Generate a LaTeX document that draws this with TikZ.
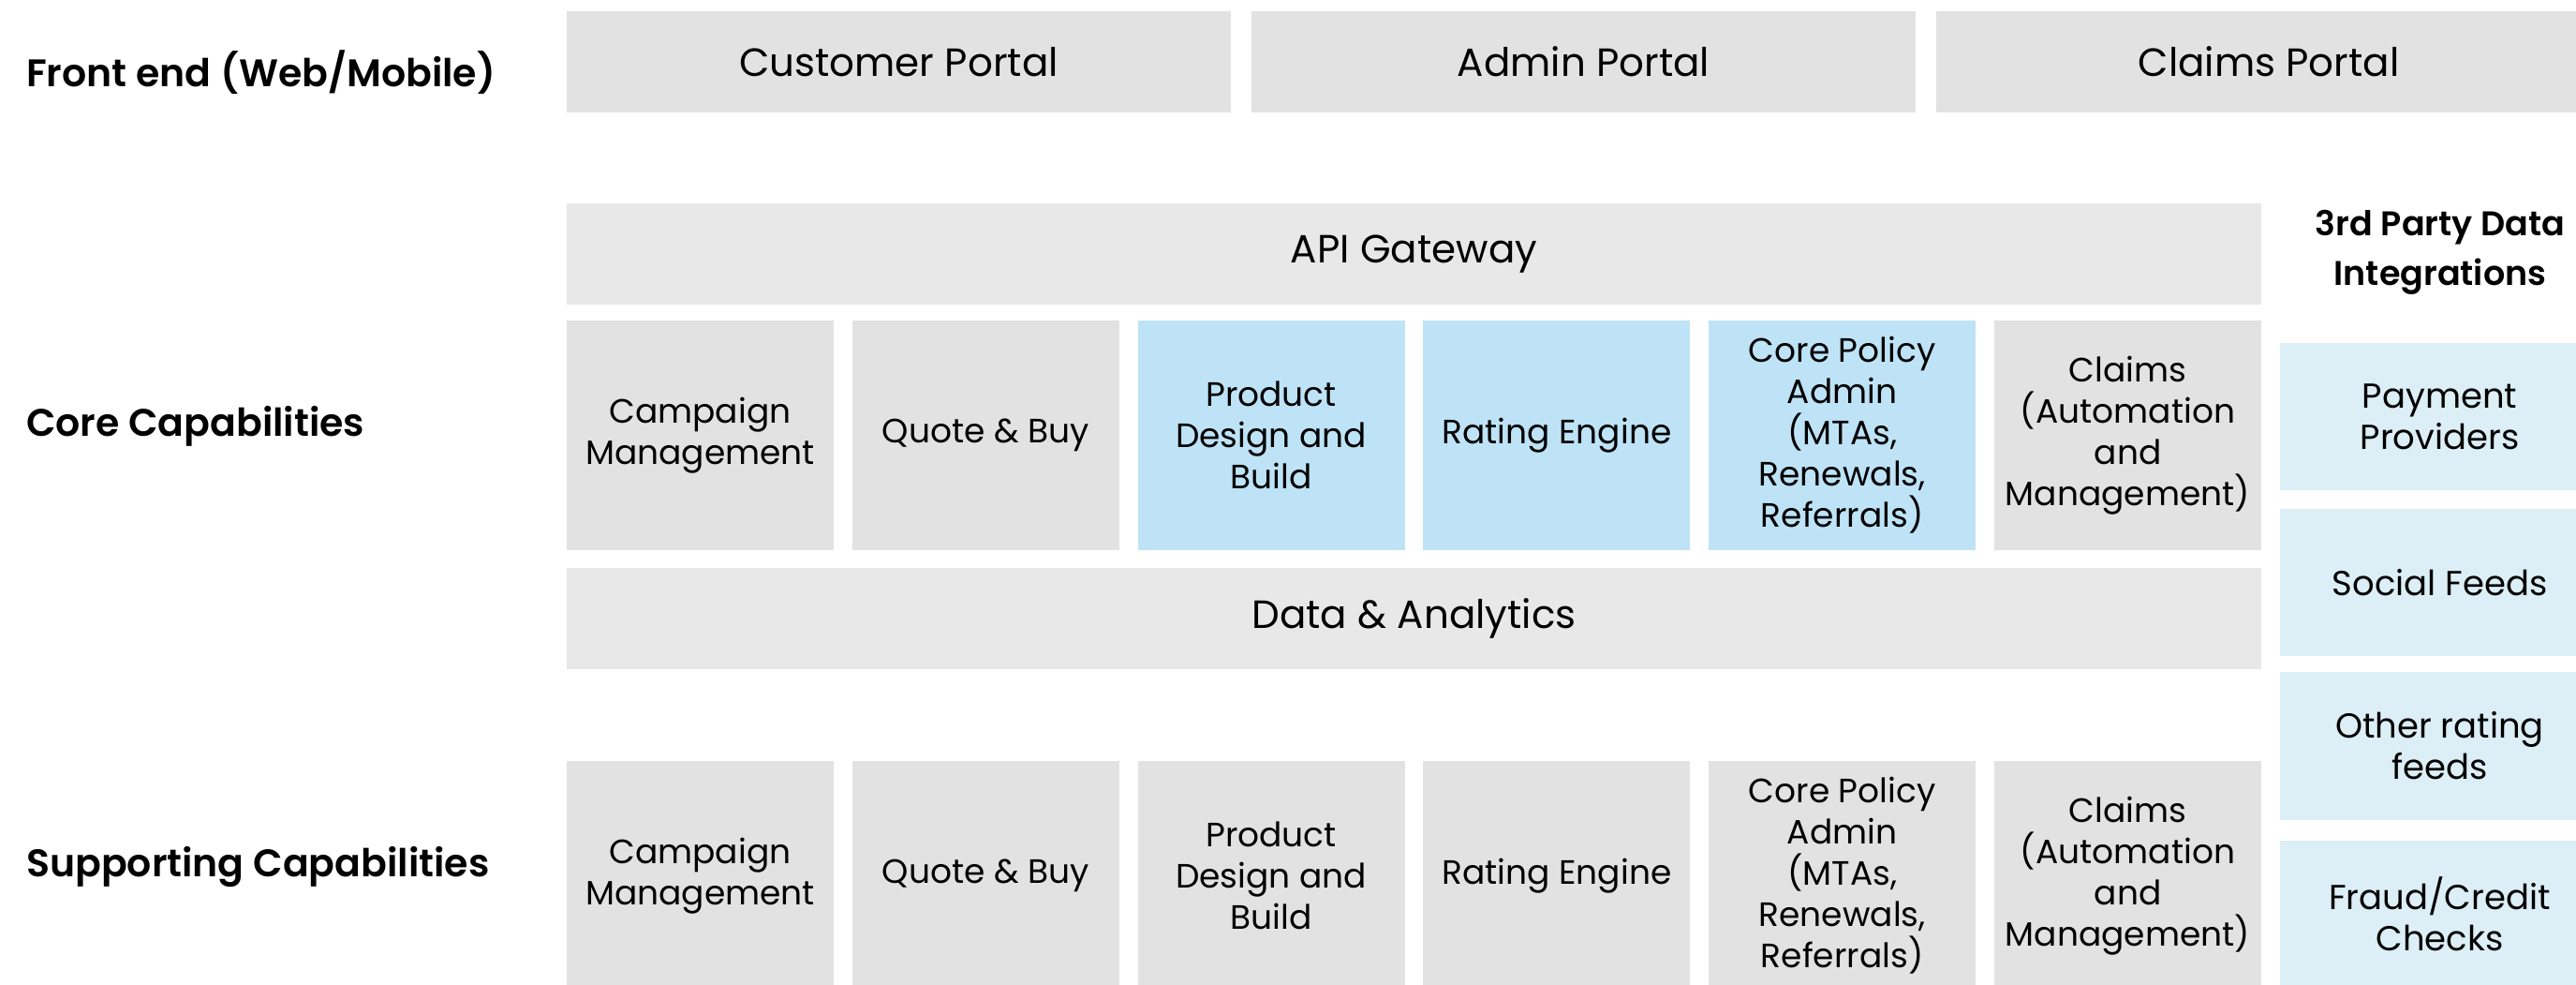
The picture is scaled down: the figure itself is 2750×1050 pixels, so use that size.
\documentclass[tikz,border=0pt]{standalone}
\usepackage{fontspec}
\setmainfont{Poppins}
\newfontfamily\semib{Poppins}[UprightFont=* SemiBold]
\definecolor{boxgrey}{HTML}{E2E2E2}
\definecolor{bargrey}{HTML}{E8E8E8}
\definecolor{coreblue}{HTML}{BEE3F6}
\definecolor{thirdblue}{HTML}{DCEEF6}
\begin{document}
\begin{tikzpicture}[x=1pt,y=-1pt,
  cell/.style={fill=boxgrey, draw=none, inner sep=0pt, outer sep=0pt, align=center,
    anchor=north west, text=black, font=\fontsize{36}{44}\selectfont},
  bar/.style={cell, fill=bargrey, minimum width=1809pt, minimum height=108pt,
    font=\fontsize{42}{50}\selectfont},
  portal/.style={cell, minimum height=108pt, font=\fontsize{42}{50}\selectfont},
  capbox/.style={cell, minimum width=285pt, minimum height=245pt},
  hot/.style={fill=coreblue},
  third/.style={cell, fill=thirdblue, minimum width=341pt, font=\fontsize{37}{44}\selectfont},
  rowlabel/.style={anchor=west, inner sep=0pt, font=\fontsize{41}{50}\semib},
  heading/.style={align=center, inner sep=0pt, font=\fontsize{36.5}{53}\semib}]
\useasboundingbox (0,0) rectangle (2750,1050);
\clip (0,0) rectangle (2750,1050);
\fill[white] (0,0) rectangle (2750,1050);

% row labels
\node[rowlabel] (lfront) at (28,77) {Front end (Web/Mobile)};
\node[rowlabel] (lcore) at (28,455) {Core Capabilities};
\node[rowlabel] (lsupp) at (28,925) {Supporting Capabilities};

% front end
\node[portal, minimum width=709pt] (cust) at (605,12) {Customer Portal};
\node[portal, minimum width=709pt] (admin) at (1336,12) {Admin Portal};
\node[portal, minimum width=710pt] (claimsp) at (2067,12) {Claims Portal};

% API gateway
\node[bar] (api) at (605,217) {API Gateway};

% core capabilities
\node[capbox] (c1) at (605,342) {Campaign\\Management};
\node[capbox] (c2) at (909.8,342) {Quote \& Buy};
\node[capbox, hot] (c3) at (1214.6,342) {Product\\Design and\\Build};
\node[capbox, hot] (c4) at (1519.4,342) {Rating Engine};
\node[capbox, hot] (c5) at (1824.2,342) {Core Policy\\Admin\\(MTAs,\\Renewals,\\Referrals)};
\node[capbox] (c6) at (2129,342) {Claims\\(Automation\\and\\Management)};

% data & analytics
\node[bar] (data) at (605,606) {Data \& Analytics};

% supporting capabilities
\node[capbox] (s1) at (605,812) {Campaign\\Management};
\node[capbox] (s2) at (909.8,812) {Quote \& Buy};
\node[capbox] (s3) at (1214.6,812) {Product\\Design and\\Build};
\node[capbox] (s4) at (1519.4,812) {Rating Engine};
\node[capbox] (s5) at (1824.2,812) {Core Policy\\Admin\\(MTAs,\\Renewals,\\Referrals)};
\node[capbox] (s6) at (2129,812) {Claims\\(Automation\\and\\Management)};

% 3rd party
\node[heading] (thirdhead) at (2605,269) {3rd Party Data\\Integrations};
\node[third, minimum height=157pt] (t1) at (2434,366) {Payment\\Providers};
\node[third, minimum height=157pt] (t2) at (2434,543) {Social Feeds};
\node[third, minimum height=158pt] (t3) at (2434,717) {Other rating\\feeds};
\node[third, minimum height=157pt] (t4) at (2434,897) {Fraud/Credit\\Checks};
\end{tikzpicture}
\end{document}
